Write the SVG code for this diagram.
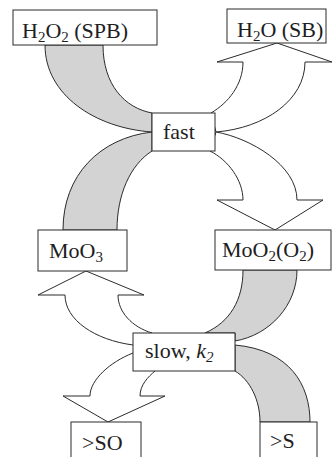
<svg xmlns="http://www.w3.org/2000/svg" width="332" height="457" viewBox="0 0 332 457">
  <style>
    .box { fill: #ffffff; stroke: #2b2b2b; stroke-width: 1; }
    .band { fill: #d3d3d3; stroke: #2b2b2b; stroke-width: 1; stroke-linejoin: round; }
    .arrow { fill: #ffffff; stroke: #2b2b2b; stroke-width: 1; stroke-linejoin: miter; }
    .lbl { font-family: "Liberation Serif", "Times New Roman", serif; font-size: 22px; fill: #1e1e1e; }
    .sub { font-size: 15px; }
  </style>
  <rect width="332" height="457" fill="#ffffff"/>

  <g id="connectors">
    <!-- reactant bands (grey) -->
    <path class="band" d="M45,45 C45,95 95,128 152,132 L152,113 C125,108 103,85 103,45 Z"/>
    <path class="band" d="M63,230 C63,175 100,138 152,132 L152,151 C130,165 117,195 117,230 Z"/>
    <path class="band" d="M243,270 C243,300 230,322 205,333 L235,333 L235,341 C270,335 297,305 297,270 Z"/>
    <path class="band" d="M260,422 C260,400 250,380 235,371 L235,345 C290,350 310,385 310,422 Z"/>
    <!-- product arrows (white) -->
    <path class="arrow" d="M211,113 C228,103 243,85 243,62 L217,62 L277,43 L332,62 L305,62 C305,100 265,128 216,132 Z"/>
    <path class="arrow" d="M216,132 C250,138 297,165 297,200 L323,200 L275,230 L217,200 L243,200 C243,180 228,160 210,151 Z"/>
    <path class="arrow" d="M133,345 C95,340 65,320 65,295 L38,295 L86,271 L144,295 L118,295 C118,312 132,327 152,333 Z"/>
    <path class="arrow" d="M133,353 C110,362 90,380 90,396 L63,396 L108,422 L165,396 L140,396 C140,385 148,377 155,371 Z"/>
  </g>

  <g id="h2o2">
    <rect class="box" x="13" y="10" width="144" height="35"/>
    <text class="lbl" x="22" y="38">H<tspan class="sub" dy="4">2</tspan><tspan dy="-4">O</tspan><tspan class="sub" dy="4">2</tspan><tspan dy="-4"> (SPB)</tspan></text>
  </g>
  <g id="h2o">
    <rect class="box" x="227" y="9" width="99" height="34"/>
    <text class="lbl" x="237" y="37">H<tspan class="sub" dy="4">2</tspan><tspan dy="-4">O (SB)</tspan></text>
  </g>
  <g id="fast">
    <rect class="box" x="152" y="113" width="63" height="38"/>
    <text class="lbl" x="163" y="139">fast</text>
  </g>
  <g id="moo3">
    <rect class="box" x="38" y="230" width="89" height="41"/>
    <text class="lbl" x="49" y="258">MoO<tspan class="sub" dy="4">3</tspan></text>
  </g>
  <g id="moo2o2">
    <rect class="box" x="215" y="230" width="116" height="40"/>
    <text class="lbl" x="222" y="257">MoO<tspan class="sub" dy="4">2</tspan><tspan dy="-4">(O</tspan><tspan class="sub" dy="4">2</tspan><tspan dy="-4">)</tspan></text>
  </g>
  <g id="slow">
    <rect class="box" x="133" y="333" width="102" height="38"/>
    <text class="lbl" x="145" y="358">slow, <tspan font-style="italic">k</tspan><tspan class="sub" font-style="italic" dy="4">2</tspan></text>
  </g>
  <g id="so">
    <rect class="box" x="71" y="422" width="70" height="40"/>
    <text class="lbl" x="82" y="450">&gt;SO</text>
  </g>
  <g id="s">
    <rect class="box" x="260" y="422" width="57" height="40"/>
    <text class="lbl" x="270" y="448">&gt;S</text>
  </g>
</svg>
